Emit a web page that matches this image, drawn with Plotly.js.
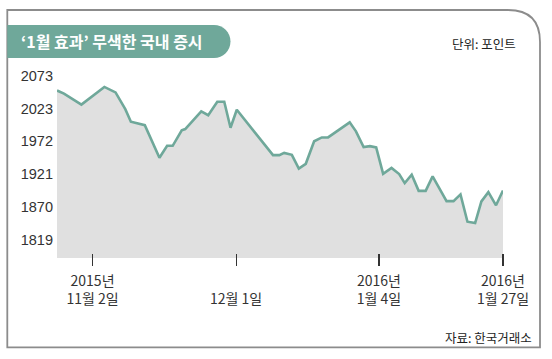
<!DOCTYPE html>
<html>
<head>
<meta charset="utf-8">
<script src="https://cdn.plot.ly/plotly-3.0.1.min.js"></script>
<style>
html,body{margin:0;padding:0;background:#fff;}
#chart{width:552px;height:359px;}
</style>
</head>
<body>
<div id="chart"></div>
<script>
// Trading-day position (0 = first day shown, 2015-10-26) of each drawn vertex
const day = [0, 1, 3.5, 6.8, 8.4, 9.8, 10.6, 12.6, 14.7, 15.8,
             16.6, 17.9, 18.4, 20.7, 21.7, 23, 24, 24.9, 25.8, 31,
             31.9, 32.6, 33.7, 34.7, 35.7, 36.9, 38, 38.9, 42, 42.9,
             44, 44.9, 45.8, 46.8, 48, 49.1, 49.9, 50.9, 51.9, 52.9,
             53.9, 55.9, 56.9, 57.9, 58.9, 60, 60.9, 61.9, 63, 64];
// KOSPI index (points)
const kospi = [2051, 2046, 2029, 2056.5, 2048, 2022, 2002.5, 1997, 1946.5, 1965,
               1965, 1989, 1991, 2018.5, 2012.5, 2033.5, 2033.5, 1993, 2021, 1950.5,
               1950.5, 1954, 1951, 1929.5, 1937, 1972, 1978, 1978, 2001.5, 1987.5,
               1963, 1964.5, 1962.5, 1921.5, 1930.5, 1921, 1907, 1920, 1895, 1895,
               1917.5, 1879, 1879, 1889.5, 1847, 1845, 1878.5, 1893, 1872.5, 1895.5];
// Axis ticks
const yTicks = [1819, 1870, 1921, 1972, 2023, 2073];
const xTickDays = [5.1, 25.7, 46.2, 64];
const xTickLabels = ['2015년<br>11월 2일', ' <br>12월 1일', '2016년<br>1월 4일', '2016년<br>1월 27일'];

const titleText = '‘1월 효과’ 무색한 국내 증시';
const unitText = '단위: 포인트';
const sourceText = '자료: 한국거래소';

// layout geometry (pixels)
const W = 552, H = 359;
const M = {l: 57, r: 49, t: 70, b: 101};
const pw = W - M.l - M.r, ph = H - M.t - M.b;
const px = x => (x - M.l) / pw;
const py = y => (H - M.b - y) / ph;
function path(cmds) {
  return cmds.map(c => {
    if (c[0] === 'Z') return 'Z';
    const pts = [];
    for (let i = 1; i < c.length; i += 2) pts.push(px(c[i]).toFixed(5) + ',' + py(c[i + 1]).toFixed(5));
    return c[0] + pts.join(' ');
  }).join(' ');
}

const teal = '#6fa89a';
const border = path([['M', 7.3, 347.3], ['L', 7.3, 10], ['L', 508, 10], ['Q', 540, 10, 540, 42], ['L', 540, 347.3], ['Z']]);
const pill = path([['M', 7.3, 25], ['L', 214, 25], ['C', 223.1, 25, 230.5, 32.4, 230.5, 41.5],
                   ['C', 230.5, 50.6, 223.1, 58, 214, 58], ['L', 7.3, 58], ['Z']]);

const trace = {
  x: day, y: kospi, type: 'scatter', mode: 'lines',
  line: {color: teal, width: 2.6},
  fill: 'tozeroy', fillcolor: '#e0e0e0',
  hoverinfo: 'skip'
};

const layout = {
  width: W, height: H,
  margin: M,
  paper_bgcolor: '#fff', plot_bgcolor: 'rgba(0,0,0,0)',
  showlegend: false,
  xaxis: {
    range: [0, 64], anchor: 'free', position: py(253),
    tickvals: xTickDays, ticktext: xTickLabels,
    ticks: 'outside', ticklen: 12, tickwidth: 1.2, tickcolor: '#333',
    ticklabelstandoff: 3,
    tickfont: {family: '"Noto Sans CJK KR", sans-serif', size: 14, color: '#333'},
    showgrid: false, zeroline: false, showline: false, fixedrange: true
  },
  yaxis: {
    range: [1790.6, 2082.8],
    tickvals: yTicks, ticktext: yTicks.map(String),
    ticks: '', ticklabelstandoff: 3,
    tickfont: {family: '"Liberation Sans", Arial, sans-serif', size: 14.5, color: '#333'},
    showgrid: false, zeroline: false, showline: false, fixedrange: true
  },
  shapes: [
    {type: 'path', xref: 'paper', yref: 'paper', path: border, line: {color: '#8c8c8c', width: 1.8}, fillcolor: 'rgba(0,0,0,0)', layer: 'above'},
    {type: 'path', xref: 'paper', yref: 'paper', path: pill, line: {width: 0}, fillcolor: teal, layer: 'above'}
  ],
  annotations: [
    {xref: 'paper', yref: 'paper', x: px(19), y: py(41.5), xanchor: 'left', yanchor: 'middle', showarrow: false,
     text: titleText, font: {family: '"Noto Sans CJK KR", sans-serif', size: 16, color: '#fff', weight: 700}},
    {xref: 'paper', yref: 'paper', x: px(518), y: py(43), xanchor: 'right', yanchor: 'middle', showarrow: false,
     text: unitText, font: {family: '"Noto Sans CJK KR", sans-serif', size: 12.5, color: '#222'}},
    {xref: 'paper', yref: 'paper', x: px(534), y: py(337), xanchor: 'right', yanchor: 'middle', showarrow: false,
     text: sourceText, font: {family: '"Noto Sans CJK KR", sans-serif', size: 12.5, color: '#222'}}
  ]
};

Plotly.newPlot('chart', [trace], layout, {displayModeBar: false, staticPlot: true});
</script>
</body>
</html>
